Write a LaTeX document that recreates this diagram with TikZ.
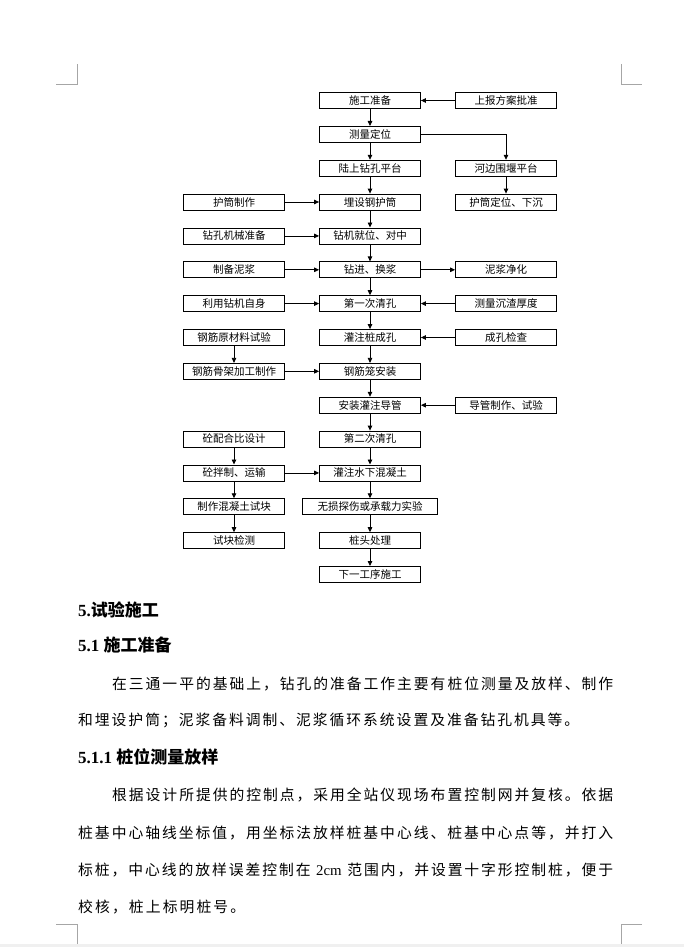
\documentclass[tikz,border=0pt]{standalone}
\usepackage{fontspec}
\setmainfont{Liberation Serif}
\newfontfamily\cjk{Noto Sans CJK SC}
\usetikzlibrary{arrows.meta}
% spread the characters of one line evenly over a given width
\newcommand*\spreadend{\spreadend}
\newcommand\spreadline[2]{\hbox to #1{\spreadfirst#2\spreadend}}
\def\spreadfirst#1{#1\spreadloop}
\def\spreadloop#1{\ifx\spreadend#1\else\hskip 0pt plus 1fil #1\expandafter\spreadloop\fi}
\tikzset{
	box/.style = {draw, line width=0.8pt, minimum width=101pt, minimum height=16pt, inner sep=0pt, font=\cjk\fontsize{10.5}{12}\selectfont},
	widebox/.style = {box, minimum width=135pt},
	flow/.style = {line width=0.8pt, -{Triangle[length=5pt,width=4.5pt]}},
	corner/.style = {gray!70, line width=0.8pt},
	heading/.style = {anchor=west, inner sep=0pt, font=\bfseries\fontsize{17}{20}\selectfont},
	bodytext/.style = {anchor=west, inner sep=0pt, font=\cjk\fontsize{14.8}{17}\selectfont}
}
\begin{document}
\begin{tikzpicture}[x=1pt, y=-1pt]
	\useasboundingbox (0,0) rectangle (684,947);
	\fill[gray!12] (0,944) rectangle (684,947);
	% page corner marks
	\draw[corner] (56,84) -- (77,84) -- (77,64);
	\draw[corner] (621,64) -- (621,84) -- (642,84);
	\draw[corner] (56,924) -- (77,924) -- (77,944);
	\draw[corner] (642,924) -- (621,924) -- (621,944);

	% main column
	\node[box] (sgzb) at (370,100.5) {施工准备};
	\node[box] (cldw) at (370,134.4) {测量定位};
	\node[box] (lszk) at (370,168.2) {陆上钻孔平台};
	\node[box] (msgh) at (370,202) {埋设钢护筒};
	\node[box] (zjjw) at (370,235.9) {钻机就位、对中};
	\node[box] (zjhj) at (370,269.8) {钻进、换浆};
	\node[box] (dyqk) at (370,303.6) {第一次清孔};
	\node[box] (gzcc) at (370,337.5) {灌注桩成孔};
	\node[box] (gjlaz) at (370,371.3) {钢筋笼安装};
	\node[box] (azdg) at (370,405.2) {安装灌注导管};
	\node[box] (deqk) at (370,439) {第二次清孔};
	\node[box] (gzsx) at (370,472.9) {灌注水下混凝土};
	\node[widebox] (wsts) at (370,506.7) {无损探伤或承载力实验};
	\node[box] (ztcl) at (370,540.6) {桩头处理};
	\node[box] (xygx) at (370,574.4) {下一工序施工};

	% left column
	\node[box] (hzzz) at (234,202) {护筒制作};
	\node[box] (zkjx) at (234,235.9) {钻孔机械准备};
	\node[box] (zbnj) at (234,269.8) {制备泥浆};
	\node[box] (lyzj) at (234,303.6) {利用钻机自身};
	\node[box] (gjyc) at (234,337.5) {钢筋原材料试验};
	\node[box] (gjgj) at (234,371.3) {钢筋骨架加工制作};
	\node[box] (tphb) at (234,439) {砼配合比设计};
	\node[box] (tbzy) at (234,472.9) {砼拌制、运输};
	\node[box] (zzsk) at (234,506.7) {制作混凝土试块};
	\node[box] (skjc) at (234,540.6) {试块检测};

	% right column
	\node[box] (sbfa) at (506,100.5) {上报方案批准};
	\node[box] (hbwy) at (506,168.2) {河边围堰平台};
	\node[box] (hddw) at (506,202) {护筒定位、下沉};
	\node[box] (njjh) at (506,269.8) {泥浆净化};
	\node[box] (clcz) at (506,303.6) {测量沉渣厚度};
	\node[box] (ckjc) at (506,337.5) {成孔检查};
	\node[box] (dgzz) at (506,405.2) {导管制作、试验};

	% connectors
	\draw[flow] (sgzb) -- (cldw);
	\draw[flow] (cldw) -- (lszk);
	\draw[flow] (lszk) -- (msgh);
	\draw[flow] (msgh) -- (zjjw);
	\draw[flow] (zjjw) -- (zjhj);
	\draw[flow] (zjhj) -- (dyqk);
	\draw[flow] (dyqk) -- (gzcc);
	\draw[flow] (gzcc) -- (gjlaz);
	\draw[flow] (gjlaz) -- (azdg);
	\draw[flow] (azdg) -- (deqk);
	\draw[flow] (deqk) -- (gzsx);
	\draw[flow] (gzsx) -- (wsts);
	\draw[flow] (wsts) -- (ztcl);
	\draw[flow] (ztcl) -- (xygx);
	\draw[flow] (sbfa) -- (sgzb);
	\draw[flow] (cldw) -| (hbwy);
	\draw[flow] (hbwy) -- (hddw);
	\draw[flow] (hzzz) -- (msgh);
	\draw[flow] (zkjx) -- (zjjw);
	\draw[flow] (zbnj) -- (zjhj);
	\draw[flow] (zjhj) -- (njjh);
	\draw[flow] (lyzj) -- (dyqk);
	\draw[flow] (clcz) -- (dyqk);
	\draw[flow] (ckjc) -- (gzcc);
	\draw[flow] (gjyc) -- (gjgj);
	\draw[flow] (gjgj) -- (gjlaz);
	\draw[flow] (dgzz) -- (azdg);
	\draw[flow] (tphb) -- (tbzy);
	\draw[flow] (tbzy) -- (gzsx);
	\draw[flow] (tbzy) -- (zzsk);
	\draw[flow] (zzsk) -- (skjc);

	% text below the chart
	\node[heading] (h5) at (78,610) {5.{\cjk 试验施工}};
	\node[heading] (h51) at (78,645) {5.1 {\cjk 施工准备}};
	\node[bodytext] (p1a) at (112,684) {\spreadline{501pt}{在三通一平的基础上，钻孔的准备工作主要有桩位测量及放样、制作}};
	\node[bodytext] (p1b) at (78,720) {\spreadline{501pt}{和埋设护筒；泥浆备料调制、泥浆循环系统设置及准备钻孔机具等。}};
	\node[heading] (h511) at (78,757) {5.1.1 {\cjk 桩位测量放样}};
	\node[bodytext] (p2a) at (112,795) {\spreadline{501pt}{根据设计所提供的控制点，采用全站仪现场布置控制网并复核。依据}};
	\node[bodytext] (p2b) at (78,833) {\spreadline{535pt}{桩基中心轴线坐标值，用坐标法放样桩基中心线、桩基中心点等，并打入}};
	\node[bodytext] (p2c) at (78,870) {\spreadline{535pt}{标桩，中心线的放样误差控制在{{\rmfamily\ 2cm\ }}范围内，并设置十字形控制桩，便于}};
	\node[bodytext] (p2d) at (78,907) {\spreadline{167pt}{校核，桩上标明桩号。}};
\end{tikzpicture}
\end{document}
